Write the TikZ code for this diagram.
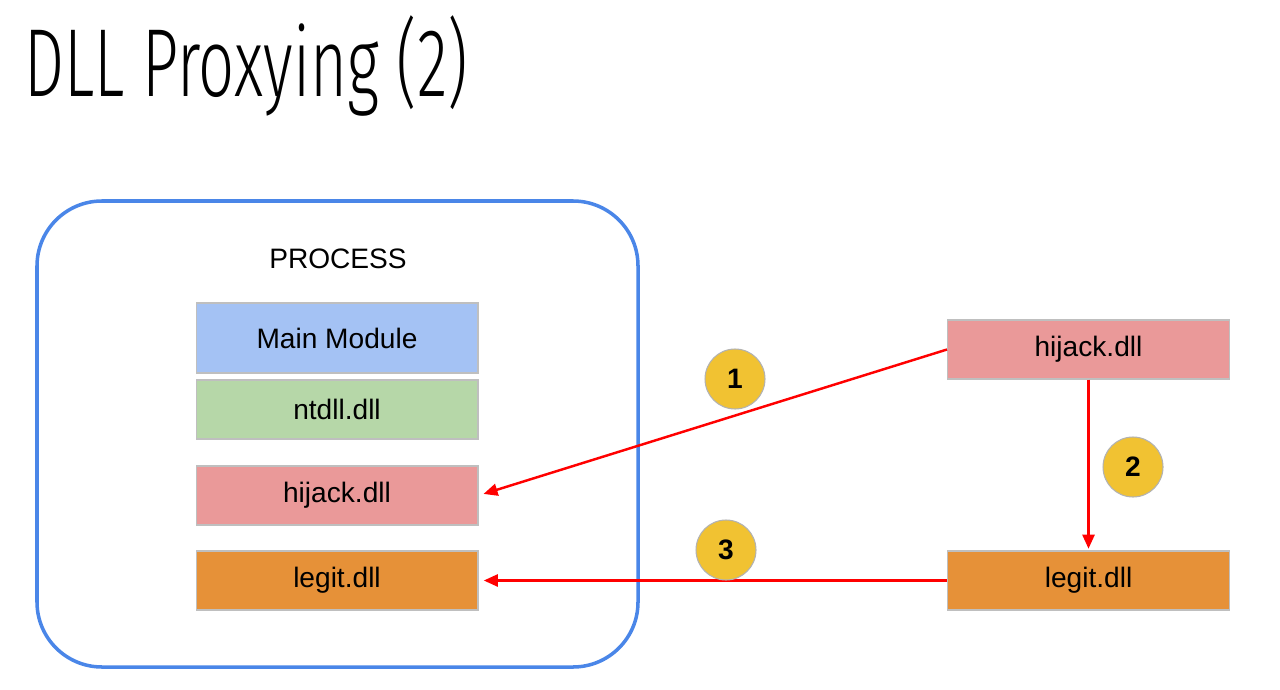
\documentclass[tikz,border=0pt]{standalone}
\usepackage{fontspec}
\setmainfont{Liberation Sans}
\newfontfamily\titlefont[FakeStretch=0.655]{Fira Sans Light}
\usetikzlibrary{arrows.meta}
\definecolor{procblue}{HTML}{4A86E8}
\definecolor{mainblue}{HTML}{A4C2F4}
\definecolor{ntgreen}{HTML}{B6D7A8}
\definecolor{hijred}{HTML}{EA9999}
\definecolor{legorange}{HTML}{E69138}
\definecolor{stepyellow}{HTML}{F1C232}
\tikzset{
  dllbox/.style={draw=black!25,line width=0.6pt,minimum width=5.64cm,minimum height=1.18cm,
    inner sep=0pt,font=\fontsize{16}{19}\selectfont},
  stepnum/.style={circle,draw=black!30,line width=0.6pt,fill=stepyellow,minimum size=1.2cm,
    inner sep=0pt,font=\fontsize{16}{19}\selectfont\bfseries},
  callarrow/.style={draw=red,line width=1.4pt,-{Triangle[length=0.28cm,width=0.24cm]}}
}
\begin{document}
\begin{tikzpicture}[x=0.02cm,y=-0.02cm]
        \useasboundingbox (0,0) rectangle (1280,689);
        %% Title
        \node[anchor=base west,inner sep=0pt,font=\titlefont\fontsize{55}{60}\selectfont] (title) at (24,97) {DLL Proxying (2)};
        %% Process
        \draw[procblue,line width=2pt,rounded corners=1.3cm] (37,201) rectangle (638,667);
        \node[font=\fontsize{16}{19}\selectfont] (proc) at (338,259) {PROCESS};
        \node[dllbox,fill=mainblue,minimum height=1.4cm] (main) at (337,338) {Main Module};
        \node[dllbox,fill=ntgreen] (ntdll) at (337,409.5) {ntdll.dll};
        \node[dllbox,fill=hijred] (lhijack) at (337,495.5) {hijack.dll};
        \node[dllbox,fill=legorange] (llegit) at (337,580.5) {legit.dll};
        %% Outside
        \node[dllbox,fill=hijred] (rhijack) at (1088.5,349.5) {hijack.dll};
        \node[dllbox,fill=legorange] (rlegit) at (1088.5,580.5) {legit.dll};
        %% Arrows
        \draw[callarrow,shorten >=3pt] (rhijack.west) -- (lhijack.east);
        \draw[callarrow,shorten >=1pt] (rhijack.south) -- (rlegit.north);
        \draw[callarrow,shorten >=3pt] (rlegit.west) -- (llegit.east);
        %% Steps
        \node[stepnum] (s1) at (735,379) {1};
        \node[stepnum] (s2) at (1133,467) {2};
        \node[stepnum] (s3) at (726,550) {3};
\end{tikzpicture}
\end{document}
